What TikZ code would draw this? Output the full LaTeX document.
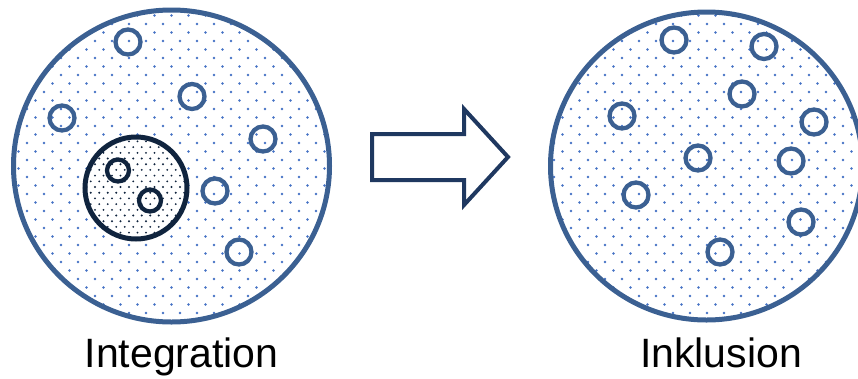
\documentclass[tikz,border=0pt]{standalone}
\usepackage{fontspec}
\setmainfont{Liberation Sans}
\definecolor{ringblue}{RGB}{59,96,146}
\definecolor{dotblue}{RGB}{68,114,196}
\definecolor{darknavy}{RGB}{16,36,62}
\definecolor{arrownavy}{RGB}{31,56,96}
\begin{document}
\begin{tikzpicture}[x=1pt, y=-1pt,
    bigring/.style={draw=ringblue, line width=5pt},
    smallring/.style={circle, draw=ringblue, line width=4.3pt, minimum size=25pt, inner sep=0pt},
    darkring/.style={circle, draw=darknavy, line width=4.3pt, minimum size=22pt, inner sep=0pt},
    caption/.style={anchor=base, font=\fontsize{41}{49}\selectfont}]
    \useasboundingbox (0,0) rectangle (858,378);

    % blue dot grid in both big circles
    \begin{scope}
        \clip (171.5,166) ellipse[x radius=158, y radius=156]
              (706.5,166) ellipse[x radius=156, y radius=154];
        \foreach \k in {0,...,37} {
            \pgfmathsetmacro{\yy}{7+8.5*\k}
            \pgfmathsetmacro{\xoff}{10+8.5*mod(\k,2)}
            \foreach \n in {0,...,50}
                \fill[dotblue] ({\xoff+17*\n},\yy) circle[radius=1.3];
        }
    \end{scope}
    \draw[bigring] (171.5,166) ellipse[x radius=158, y radius=156];
    \draw[bigring] (706.5,166) ellipse[x radius=156, y radius=154];

    % inner group, densely dotted
    \fill[white] (136,188) circle[radius=51];
    \begin{scope}
        \clip (136,188) circle[radius=51];
        \foreach \k in {0,...,40} {
            \pgfmathsetmacro{\yy}{130+5.7*\k}
            \pgfmathsetmacro{\xoff}{78+4.25*mod(\k,2)}
            \foreach \n in {0,...,15}
                \fill[darknavy] ({\xoff+8.5*\n},\yy) circle[radius=1.05];
        }
    \end{scope}
    \draw[draw=darknavy, line width=5pt] (136,188) circle[radius=51];
    \node[darkring] (g1) at (118,170.5) {};
    \node[darkring] (g2) at (150,200.5) {};

    % left circle members
    \node[smallring] (a1) at (128,42) {};
    \node[smallring] (a2) at (192,96.5) {};
    \node[smallring] (a3) at (62,118) {};
    \node[smallring] (a4) at (263,139) {};
    \node[smallring] (a5) at (215,191) {};
    \node[smallring] (a6) at (239,252) {};

    % right circle members
    \node[smallring] (b1) at (674,40) {};
    \node[smallring] (b2) at (764,46.5) {};
    \node[smallring] (b3) at (742,94) {};
    \node[smallring] (b4) at (622,116) {};
    \node[smallring] (b5) at (814,122) {};
    \node[smallring] (b6) at (698,158) {};
    \node[smallring] (b7) at (791,161) {};
    \node[smallring] (b8) at (636,195) {};
    \node[smallring] (b9) at (801,222) {};
    \node[smallring] (b10) at (720,252) {};

    % block arrow
    \draw[arrownavy, line width=4pt, miter limit=10]
        (372,134) -- (464,134) -- (464,109) -- (508,157) -- (464,205)
        -- (464,180) -- (372,180) -- cycle;

    \node[caption] (integ) at (181.5,367) {Integration};
    \node[caption] (inkl) at (721,367) {Inklusion};
\end{tikzpicture}
\end{document}
